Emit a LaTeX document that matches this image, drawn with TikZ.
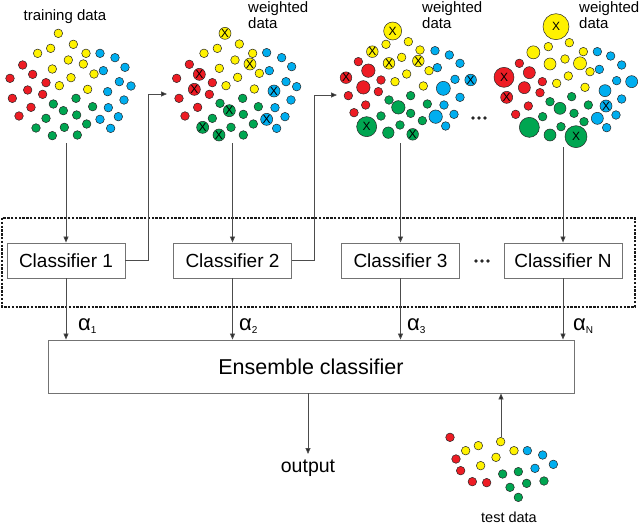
\documentclass[tikz,border=0pt]{standalone}
\usepackage{fontspec}
\setmainfont{Liberation Sans}
\usetikzlibrary{arrows.meta}
\definecolor{dred}{RGB}{237,28,36}
\definecolor{dyel}{RGB}{255,242,0}
\definecolor{dgrn}{RGB}{0,166,81}
\definecolor{dblu}{RGB}{0,174,239}
\tikzset{
  dotst/.style={draw=black!85, line width=0.5pt},
  xmark/.style={inner sep=0pt, font=\fontsize{12}{12}\selectfont, text=black},
  clf/.style={draw=black!55, line width=0.9pt, minimum width=118pt, minimum height=35pt, inner sep=0pt, font=\fontsize{19}{19}\selectfont},
  ens/.style={draw=black!55, line width=0.9pt, minimum width=526pt, minimum height=53pt, inner sep=0pt, font=\fontsize{21.5}{21.5}\selectfont},
  conn/.style={draw=black!70, line width=0.8pt, -{Triangle[length=6pt,width=5pt,fill=black!85]}},
  lbl/.style={inner sep=0pt, font=\fontsize{15}{16}\selectfont},
  dashbox/.style={draw=black!90, line width=1.2pt, dash pattern=on 2.4pt off 1.4pt},
  alab/.style={inner sep=0pt, anchor=base west, font=\fontsize{22}{22}\selectfont}
}
\newcommand\dd[4]{\filldraw[dotst, fill=#1] (#2,#3) circle[radius=#4pt];}
\newcommand\dx[4]{\filldraw[dotst, fill=#1] (#2,#3) circle[radius=#4pt]; \node[xmark] at (#2,#3) {X};}
\newcommand\sub[1]{\raisebox{-3pt}{\fontsize{10}{10}\selectfont #1}}
\begin{document}
\begin{tikzpicture}[x=1pt,y=-1pt]
\useasboundingbox (0,0) rectangle (640,525);
\fill[white] (0,0) rectangle (640,525);

% ---------- cluster 1 (training data)
\begin{scope}[x=0.33333pt,y=-0.33333pt]
\foreach \a/\b in {175/100,220/133,152/145,113/160,258/160,205/180,250/192,157/207,282/222,213/233,178/257,263/268} {\dd{dyel}{\a}{\b}{4.3}}
\foreach \a/\b in {300/160,345/173,375/202,310/212,358/245,393/258,323/275,372/300,325/323,355/350,300/358,332/385} {\dd{dblu}{\a}{\b}{4.3}}
\foreach \a/\b in {68/195,98/223,30/235,138/248,83/270,128/283,37/295,93/322,57/348} {\dd{dred}{\a}{\b}{4.3}}
\foreach \a/\b in {228/295,160/312,190/332,278/320,230/345,138/355,260/372,108/384,193/382,157/407,232/405} {\dd{dgrn}{\a}{\b}{4.3}}
\end{scope}

% ---------- cluster 2
\begin{scope}[shift={(160pt,0pt)},x=0.33333pt,y=-0.33333pt]
\foreach \a/\b in {238/132,172/145,132/160,278/160,225/180,178/205,298/220,233/232,198/257,283/267} {\dd{dyel}{\a}{\b}{4.3}}
\dx{dyel}{195}{100}{6}\dx{dyel}{270}{192}{6}
\foreach \a/\b in {320/158,365/173,395/200,328/212,378/245,410/260,393/300,345/323,375/350,350/385} {\dd{dblu}{\a}{\b}{4.3}}
\dx{dblu}{342}{273}{6}\dx{dblu}{320}{358}{6}
\foreach \a/\b in {88/193,50/235,157/248,148/283,57/295,113/322,75/348} {\dd{dred}{\a}{\b}{4.3}}
\dx{dred}{118}{223}{6}\dx{dred}{103}{268}{6}
\foreach \a/\b in {248/295,180/310,295/320,250/343,157/355,280/372,213/382,250/405} {\dd{dgrn}{\a}{\b}{4.3}}
\dx{dgrn}{208}{332}{6}\dx{dgrn}{128}{382}{6}\dx{dgrn}{177}{405}{6}
\end{scope}

% ---------- cluster 3
\begin{scope}[shift={(320pt,0pt)},x=0.33333pt,y=-0.33333pt]
\foreach \a/\b in {265/125,198/133,300/150,245/172,327/212,260/222,225/245,310/258} {\dd{dyel}{\a}{\b}{4.3}}
\dx{dyel}{218}{93}{9}\dx{dyel}{157}{155}{5.8}\dx{dyel}{295}{183}{5.8}\dx{dyel}{207}{190}{5.8}
\foreach \a/\b in {345/152,388/165,420/190,352/203,405/238,420/292,372/315,402/343,377/378} {\dd{dblu}{\a}{\b}{4.3}}
\dx{dblu}{452}{240}{5.8}\dd{dblu}{370}{265}{7}\dd{dblu}{347}{350}{6.7}
\foreach \a/\b in {115/185,183/240,175/275,85/287,137/315,102/338} {\dd{dred}{\a}{\b}{4.3}}
\dd{dred}{145}{212}{6.7}\dx{dred}{78}{233}{5.8}\dd{dred}{130}{262}{6.7}
\foreach \a/\b in {272/287,207/300,322/312,272/340,183/348,307/362,240/375} {\dd{dgrn}{\a}{\b}{4.3}}
\dd{dgrn}{235}{322}{6.7}\dx{dgrn}{140}{380}{10}\dd{dgrn}{205}{398}{5.7}\dx{dgrn}{278}{403}{5.8}
\end{scope}

% ---------- cluster 4
\begin{scope}[shift={(480pt,0pt)},x=0.33333pt,y=-0.33333pt]
\foreach \a/\b in {268/128,205/140,310/155,255/177,330/215,265/228,230/250,315/262} {\dd{dyel}{\a}{\b}{4.3}}
\dx{dyel}{228}{80}{13}\dd{dyel}{160}{157}{6.5}\dd{dyel}{300}{190}{6.5}\dd{dyel}{210}{192}{6}
\foreach \a/\b in {352/155,392/168,425/195,358/208,410/242,425/297,408/345,380/383} {\dd{dblu}{\a}{\b}{4.3}}
\dd{dblu}{455}{245}{6}\dd{dblu}{375}{272}{6}\dx{dblu}{378}{318}{6}\dd{dblu}{352}{355}{6}
\foreach \a/\b in {118/190,187/245,180/278,145/318,107/343} {\dd{dred}{\a}{\b}{4.3}}
\dd{dred}{148}{218}{6}\dx{dred}{72}{232}{10}\dd{dred}{133}{263}{6}\dx{dred}{80}{292}{6}
\foreach \a/\b in {275/290,210/305,325/315,282/340,188/350,312/365,243/380} {\dd{dgrn}{\a}{\b}{4.3}}
\dd{dgrn}{240}{325}{6}\dd{dgrn}{148}{382}{10}\dd{dgrn}{210}{405}{6}\dx{dgrn}{288}{410}{11}
\end{scope}

% ---------- test data
\begin{scope}[shift={(420pt,-380pt)},x=0.33333pt,y=-0.33333pt]
\foreach \a/\b in {90/172,108/237,122/272,157/305,200/308} {\dd{dred}{\a}{\b}{4.3}}
\foreach \a/\b in {137/212,175/197,242/185,228/232,182/257,282/212} {\dd{dyel}{\a}{\b}{4.3}}
\foreach \a/\b in {322/212,368/225,400/253,345/265} {\dd{dblu}{\a}{\b}{4.3}}
\foreach \a/\b in {248/282,295/275,270/322,320/310,372/303,295/352} {\dd{dgrn}{\a}{\b}{4.3}}
\end{scope}

% ---------- labels
\node[lbl] (tr) at (65,17) {training data};
\node[lbl, align=left, anchor=west] (w2) at (248,15) {weighted\\data};
\node[lbl, align=left, anchor=west] (w3) at (422,15) {weighted\\data};
\node[lbl, align=left, anchor=west] (w4) at (579,15) {weighted\\data};
\node[lbl, font=\fontsize{14.5}{15}\selectfont] (td) at (509,517) {test data};

% ---------- dashed frame
\draw[dashbox] (2,218) rectangle (635,307);

% ---------- classifiers
\node[clf] (c1) at (66,260.5) {Classifier 1};
\node[clf] (c2) at (232.5,260.5) {Classifier 2};
\node[clf] (c3) at (400.5,260.5) {Classifier 3};
\node[clf] (cN) at (563,260.5) {Classifier N};
\node[ens] (ens) at (311,366.5) {Ensemble classifier};
\node[inner sep=0pt, font=\fontsize{19.5}{20}\selectfont] (out) at (308,468) {output};

% ellipses
\foreach \a in {476,482,488} {\fill[black!85] (\a,261) circle[radius=1.8pt];}
\foreach \a in {473,479,485} {\fill[black!85] (\a,118) circle[radius=1.8pt];}

% ---------- connectors
\coordinate (s1) at (66,143);
\coordinate (s2) at (232.5,143);
\coordinate (s3) at (400.5,143);
\coordinate (sN) at (563,147);
\draw[conn] (s1) -- (c1.north);
\draw[conn] (s2) -- (c2.north);
\draw[conn] (s3) -- (c3.north);
\draw[conn] (sN) -- (cN.north);

\coordinate (f1) at (167,94);
\coordinate (f2) at (337,95);
\draw[conn] (c1.east) -- ++(23,0) |- (f1);
\draw[conn] (c2.east) -- ++(22,0) |- (f2);

\draw[conn] (c1.south) -- (c1.south |- ens.north);
\draw[conn] (c2.south) -- (c2.south |- ens.north);
\draw[conn] (c3.south) -- (c3.south |- ens.north);
\draw[conn] (cN.south) -- (cN.south |- ens.north);

\coordinate (oe) at (308,454);
\draw[conn] (ens.south -| oe) -- (oe);
\coordinate (te) at (501,437);
\draw[conn] (te) -- (te |- ens.south);

% ---------- weights
\node[alab] (a1) at (78,330) {α\sub{1}};
\node[alab] (a2) at (239,330) {α\sub{2}};
\node[alab] (a3) at (407,330) {α\sub{3}};
\node[alab] (aN) at (573,330) {α\sub{N}};
\end{tikzpicture}
\end{document}
